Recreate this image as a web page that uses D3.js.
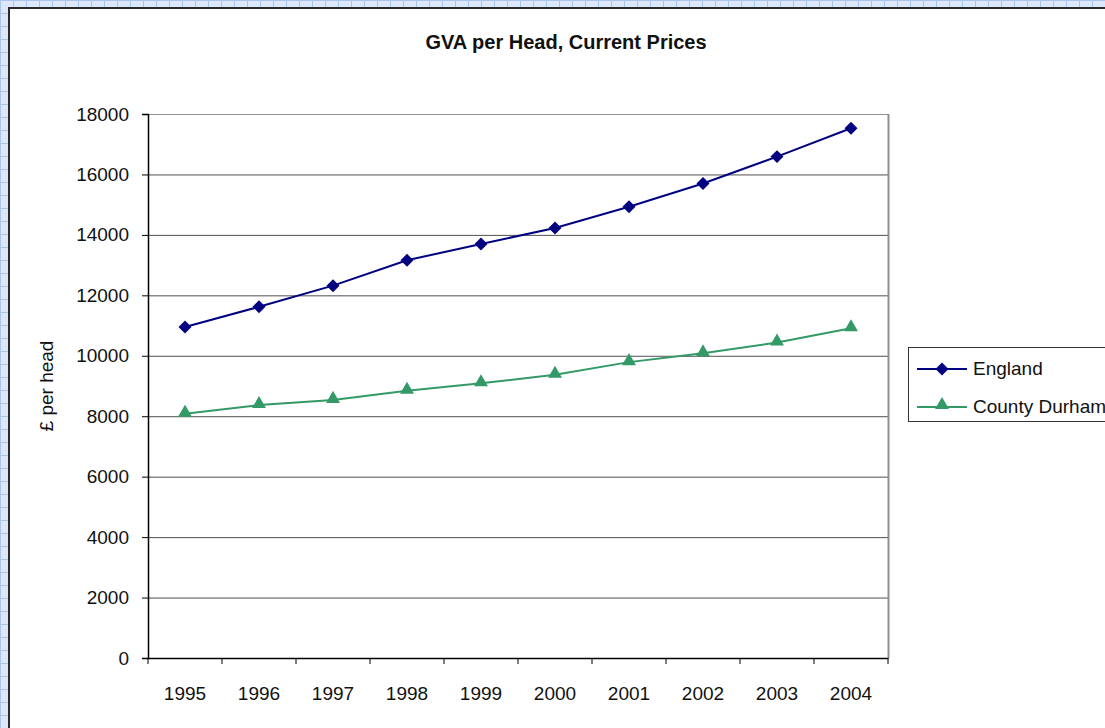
<!DOCTYPE html>
<html>
<head>
<meta charset="utf-8">
<style>
  body { margin: 0; background: #fff; }
  text { font-family: "Liberation Sans", Arial, sans-serif; fill: #111; }
</style>
</head>
<body>
<svg width="1105" height="728"></svg>
<script src="https://d3js.org/d3.v7.min.js"></script>
<script>
    var years = ["1995", "1996", "1997", "1998", "1999", "2000", "2001", "2002", "2003", "2004"];
    var england = [10950, 11620, 12320, 13160, 13700, 14230, 14930, 15700, 16590, 17530];
    var durham = [8080, 8370, 8540, 8840, 9090, 9370, 9790, 10080, 10440, 10910];
    var yTicks = [0, 2000, 4000, 6000, 8000, 10000, 12000, 14000, 16000, 18000];
    var seriesNames = ["England", "County Durham"];

    var svg = d3.select("svg"),
        width = +svg.attr("width"),
        height = +svg.attr("height");

    // worksheet grid behind the chart
    var defs = svg.append("defs");
    var pat = defs.append("pattern")
        .attr("id", "cells")
        .attr("width", 13)
        .attr("height", 13)
        .attr("patternUnits", "userSpaceOnUse");
    pat.append("rect").attr("width", 13).attr("height", 13).attr("fill", "#dce8fa");
    pat.append("path").attr("d", "M0,0.5H13M0.5,0V13")
        .attr("stroke", "#aac6ee").attr("stroke-width", 1);

    svg.append("rect")
        .attr("width", width).attr("height", height)
        .attr("fill", "url(#cells)");

    // chart area
    svg.append("rect")
        .attr("x", 9).attr("y", 8)
        .attr("width", width + 20).attr("height", height + 20)
        .attr("fill", "#fff")
        .attr("stroke", "#2a2a2a")
        .attr("stroke-width", 2);

    var plotL = 148, plotR = 888, plotT = 114, plotB = 658;

    var x = d3.scaleBand().domain(years).range([plotL, plotR]).padding(0);
    var y = d3.scaleLinear().domain([0, 18000]).range([plotB, plotT]);
    var cx = function(d, i) { return x(years[i]) + x.bandwidth() / 2; };

    // gridlines
    svg.append("g").selectAll("line")
        .data(yTicks.slice(1))
        .enter().append("line")
        .attr("x1", plotL).attr("x2", plotR)
        .attr("y1", function(d) { return y(d) + 0.5; })
        .attr("y2", function(d) { return y(d) + 0.5; })
        .attr("stroke", function(d) { return d == 18000 ? "#909090" : "#505050"; })
        .attr("stroke-width", 1);

    // plot area right border
    svg.append("line")
        .attr("x1", plotR + 0.5).attr("x2", plotR + 0.5)
        .attr("y1", plotT).attr("y2", plotB)
        .attr("stroke", "#909090").attr("stroke-width", 2);

    // y axis
    var yAxis = svg.append("g")
        .attr("transform", "translate(" + plotL + ",0)")
        .call(d3.axisLeft(y).tickValues(yTicks).tickFormat(d3.format("d")).tickSize(6).tickPadding(13));
    yAxis.select(".domain").attr("stroke", "#000").attr("stroke-width", 1.5);
    yAxis.selectAll(".tick line").attr("stroke", "#000");
    yAxis.selectAll("text").attr("font-size", 19).attr("fill", "#111")
        .attr("font-family", "'Liberation Sans', Arial, sans-serif");

    // x axis: labels under band centres, ticks at band edges
    var xAxis = svg.append("g")
        .attr("transform", "translate(0," + plotB + ")")
        .call(d3.axisBottom(x).tickSize(0).tickPadding(29));
    xAxis.select(".domain").attr("stroke", "#000").attr("stroke-width", 1.5);
    xAxis.selectAll("text").attr("font-size", 19).attr("fill", "#111")
        .attr("font-family", "'Liberation Sans', Arial, sans-serif");

    var edges = years.map(function(d) { return x(d); }).concat([x(years[years.length - 1]) + x.bandwidth()]);
    svg.append("g").selectAll("line")
        .data(edges)
        .enter().append("line")
        .attr("x1", function(d) { return d; }).attr("x2", function(d) { return d; })
        .attr("y1", plotB).attr("y2", plotB + 6)
        .attr("stroke", "#000").attr("stroke-width", 1);

    // series
    var line = d3.line()
        .x(function(d, i) { return cx(d, i); })
        .y(function(d) { return y(d); });

    svg.append("path")
        .datum(england)
        .attr("d", line)
        .attr("fill", "none")
        .attr("stroke", "#000080")
        .attr("stroke-width", 2);

    svg.append("path")
        .datum(durham)
        .attr("d", line)
        .attr("fill", "none")
        .attr("stroke", "#339966")
        .attr("stroke-width", 2);

    var diamond = d3.symbol().type(d3.symbolSquare).size(84);
    var triangle = d3.symbol().type(d3.symbolTriangle).size(84);

    svg.append("g").selectAll("path")
        .data(england)
        .enter().append("path")
        .attr("d", diamond)
        .attr("transform", function(d, i) { return "translate(" + cx(d, i) + "," + y(d) + ") rotate(45)"; })
        .attr("fill", "#000080");

    svg.append("g").selectAll("path")
        .data(durham)
        .enter().append("path")
        .attr("d", triangle)
        .attr("transform", function(d, i) { return "translate(" + cx(d, i) + "," + (y(d) - 1) + ")"; })
        .attr("fill", "#339966");

    // title
    svg.append("text")
        .attr("x", 566).attr("y", 49)
        .attr("text-anchor", "middle")
        .attr("font-size", 20)
        .attr("font-weight", "bold")
        .text("GVA per Head, Current Prices");

    // y label
    svg.append("text")
        .attr("transform", "translate(53," + ((plotT + plotB) / 2) + ") rotate(-90)")
        .attr("text-anchor", "middle")
        .attr("font-size", 19)
        .text("£ per head");

    // legend
    var legend = svg.append("g").attr("transform", "translate(908,347)");
    legend.append("rect")
        .attr("x", 0.5).attr("y", 0.5)
        .attr("width", 240).attr("height", 74)
        .attr("fill", "#fff")
        .attr("stroke", "#333").attr("stroke-width", 1);

    var colors = ["#000080", "#339966"];
    var rows = legend.selectAll(".row")
        .data(seriesNames)
        .enter().append("g")
        .attr("transform", function(d, i) { return "translate(0," + (22 + i * 38) + ")"; });
    rows.append("line")
        .attr("x1", 9).attr("x2", 59)
        .attr("stroke", function(d, i) { return colors[i]; })
        .attr("stroke-width", 2);
    rows.append("path")
        .attr("d", function(d, i) { return i == 0 ? diamond() : triangle(); })
        .attr("transform", function(d, i) { return "translate(34," + (i == 0 ? 0 : -2) + ")" + (i == 0 ? " rotate(45)" : ""); })
        .attr("fill", function(d, i) { return colors[i]; });
    rows.append("text")
        .attr("x", 65).attr("y", 6)
        .attr("font-size", 19)
        .text(function(d) { return d; });
</script>
</body>
</html>
